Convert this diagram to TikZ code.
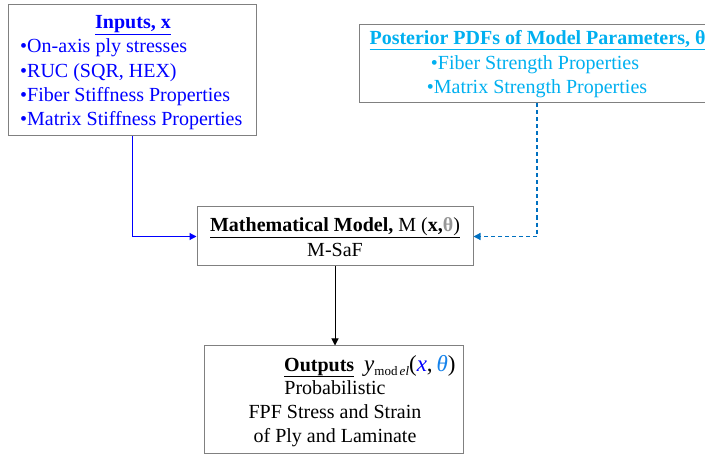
\documentclass[tikz,border=0pt]{standalone}
\usepackage{fontspec}
\setmainfont{Liberation Serif}
\usetikzlibrary{arrows.meta}
\definecolor{inblue}{RGB}{0,0,255}
\definecolor{skyb}{RGB}{0,176,240}
\definecolor{dashb}{RGB}{0,112,192}
\definecolor{thgray}{RGB}{150,150,150}
\definecolor{thblue}{RGB}{20,130,235}
\definecolor{boxgray}{RGB}{128,128,128}
\tikzset{
  box/.style={draw=boxgray, line width=1bp, fill=white, inner sep=0pt},
  txt/.style={inner sep=0pt, font=\fontsize{20bp}{24bp}\selectfont},
  conn/.style={line width=1.2bp, -{Triangle[length=7bp,width=7bp]}},
}
\begin{document}
\begin{tikzpicture}[x=1bp,y=-1bp]
\useasboundingbox (0,0) rectangle (705,455);
% boxes
\node[box, minimum width=247bp, minimum height=131bp] (in) at (132.5,70.5) {};
\node[box, minimum width=356bp, minimum height=78bp] (post) at (537,64) {};
\node[box, minimum width=276bp, minimum height=59bp] (mm) at (335,236.5) {};
\node[box, minimum width=259bp, minimum height=107bp] (out) at (333.5,399.5) {};
% inputs text
\node[txt, anchor=base, text=inblue] (inT) at (133,29) {\textbf{\underline{Inputs, x}}};
\node[txt, anchor=base west, text=inblue] (in1) at (20,53) {•On-axis ply stresses};
\node[txt, anchor=base west, text=inblue] (in2) at (20,77.5) {•RUC (SQR, HEX)};
\node[txt, anchor=base west, text=inblue] (in3) at (20,101.5) {•Fiber Stiffness Properties};
\node[txt, anchor=base west, text=inblue] (in4) at (20,125.5) {•Matrix Stiffness Properties};
% posterior text
\node[txt, anchor=base, text=skyb] (pT) at (537.5,45) {\textbf{\underline{Posterior PDFs of Model Parameters, θ}}};
\node[txt, anchor=base, text=skyb] (p1) at (535,70) {•Fiber Strength Properties};
\node[txt, anchor=base, text=skyb] (p2) at (537,94) {•Matrix Strength Properties};
% model text
\node[txt, anchor=base] (mT) at (335,232) {\underline{\textbf{Mathematical Model,} M (\textbf{x,}\textcolor{thgray}{\textbf{θ}})}};
\node[txt, anchor=base] (m1) at (335,257) {M-SaF};
% outputs text
\node[txt, anchor=base west] (oT) at (284,371) {\textbf{\underline{Outputs}}\hspace{10bp}{\fontsize{23bp}{24bp}\selectfont\textit{y}}\raisebox{-4bp}{\fontsize{13bp}{13bp}\selectfont mod\,\textit{el}}{\fontsize{23bp}{24bp}\selectfont(\textcolor{inblue}{\textit{x}},\,\textcolor{thblue}{\textit{θ}})}};
\node[txt, anchor=base] (o1) at (335,394) {Probabilistic};
\node[txt, anchor=base] (o2) at (335,418) {FPF Stress and Strain};
\node[txt, anchor=base] (o3) at (335,442) {of Ply and Laminate};
% connectors
\draw[conn, draw=inblue] (in.south) |- (mm.west);
\draw[conn, draw=dashb, dash pattern=on 4bp off 3bp] (post.south) |- (mm.east);
\draw[conn, line width=1bp, draw=black] (mm.south) -- (mm.south |- out.north);
\end{tikzpicture}
\end{document}
